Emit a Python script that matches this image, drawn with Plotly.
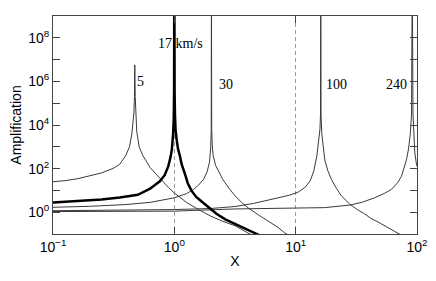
import plotly.graph_objects as go
import math

# ---- data (x = X, y = Amplification) ----
x_v5 = [0.1, 0.126, 0.158, 0.2, 0.251, 0.316, 0.355, 0.398, 0.427, 0.447, 0.457, 0.465, 0.469, 0.472,
        0.476, 0.481, 0.49, 0.513, 0.55, 0.631, 0.708, 0.794, 0.891, 1.0, 1.26, 1.585, 1.995, 2.51,
        3.16, 3.98, 5.0]
y_v5 = [25, 28, 34, 45, 63, 105, 158, 400, 1000, 4000, 12600, 4e4, 2e5, 5.7e6,
        2e5, 3.2e4, 5000, 1000, 400, 112, 56, 25, 14, 7.6, 2.8, 1.32, 0.66, 0.38,
        0.24, 0.117, 0.06]

x_v17 = [0.1, 0.158, 0.251, 0.355, 0.501, 0.631, 0.759, 0.832, 0.891, 0.933, 0.955, 0.977, 0.989,
         0.995, 1.0, 1.005, 1.012, 1.023, 1.047, 1.072, 1.109, 1.148, 1.216, 1.288, 1.38, 1.514,
         1.738, 1.995, 2.239, 2.63, 3.09, 3.715, 4.467, 5.01]
y_v17 = [2.82, 3.16, 3.8, 4.68, 6.31, 12.0, 26.3, 50, 126, 355, 794, 4000, 2e4,
         3.2e5, 1e11, 3.2e5, 3.2e4, 6300, 2000, 800, 400, 160, 63, 22, 10, 5.0,
         2.63, 1.41, 0.83, 0.47, 0.30, 0.19, 0.12, 0.089]

x_v30 = [0.1, 0.2, 0.398, 0.631, 1.0, 1.259, 1.445, 1.585, 1.738, 1.862, 1.95, 1.995, 2.014, 2.023,
         2.032, 2.051, 2.089, 2.188, 2.344, 2.512, 2.818, 3.162, 3.631, 4.169, 5.012, 6.026, 7.079,
         8.128, 9.12]
y_v30 = [1.68, 1.86, 2.24, 2.82, 4.57, 7.08, 11.2, 17.8, 31.6, 70.8, 200, 1000, 6300, 1e11,
         6300, 1260, 400, 141, 63, 31.6, 12.6, 5.62, 2.63, 1.41, 0.71, 0.38, 0.21,
         0.112, 0.079]

x_v100 = [0.1, 0.316, 1.0, 2.0, 3.16, 4.47, 5.89, 7.41, 8.91, 10.47, 12.02, 13.18, 14.13, 14.96,
          15.49, 15.85, 16.03, 16.11, 16.18, 16.41, 16.79, 17.38, 18.41, 19.72, 21.63, 23.82, 27.93,
          31.62, 37.07, 41.69, 47.75, 56.23, 65.61, 74.13]
y_v100 = [1.17, 1.23, 1.32, 1.48, 1.82, 2.51, 3.47, 4.57, 6.03, 8.3, 14.1, 28.2, 79.4, 398,
          1585, 6300, 3.2e4, 1e11, 3.2e4, 4000, 1000, 251, 79.4, 31.6, 12.6, 5.62, 2.34,
          1.41, 0.83, 0.52, 0.355, 0.219, 0.135, 0.089]

x_v240 = [0.1, 1.0, 3.16, 7.41, 10, 17.38, 28.18, 35.48, 44.67, 53.7, 61.66, 69.18, 74.47, 79.43,
          81.85, 85.11, 88.1, 90.16, 91.41, 92.68, 94.41, 95.94, 98.63, 100]
y_v240 = [1.07, 1.12, 1.41, 1.48, 1.51, 1.62, 2.14, 2.88, 4.57, 7.24, 11.2, 22.4, 44.7, 126,
          251, 794, 4000, 3.2e4, 1e11, 3.2e4, 2000, 525, 182, 126]

curve_labels = ["5", "17 km/s", "30", "100", "240"]

y_tickvals = [1e-1, 1, 1e1, 1e2, 1e3, 1e4, 1e5, 1e6, 1e7, 1e8, 1e9]
y_ticktext = ["", "10<sup>0</sup>", "", "10<sup>2</sup>", "", "10<sup>4</sup>", "",
              "10<sup>6</sup>", "", "10<sup>8</sup>", ""]
x_tickvals = [0.1, 1, 10, 100]
x_ticktext = ["10<sup>\u22121</sup>", "10<sup>0</sup>", "10<sup>1</sup>", "10<sup>2</sup>"]

fig = go.Figure()
thin = dict(color="#3a3a3a", width=1)
for xs, ys, ln in [(x_v5, y_v5, thin), (x_v30, y_v30, thin), (x_v100, y_v100, thin),
                   (x_v240, y_v240, thin), (x_v17, y_v17, dict(color="black", width=2.5))]:
    fig.add_trace(go.Scatter(x=xs, y=ys, mode="lines", line=ln, showlegend=False,
                             hoverinfo="skip"))

label_pos = [(0.524, 9.5e5), (1.13, 5.2e7), (2.66, 7e5), (21.8, 7e5), (67.5, 7e5)]
for (lx, ly), txt in zip(label_pos, curve_labels):
    fig.add_annotation(x=math.log10(lx), y=math.log10(ly), text=txt, showarrow=False,
                       font=dict(family="Liberation Serif", size=14, color="black"))

axis_common = dict(showline=True, linecolor="#444", linewidth=1, mirror="ticks",
                   ticks="inside", ticklen=7, tickcolor="#444", zeroline=False,
                   automargin=False,
                   tickfont=dict(family="Liberation Sans", size=14, color="black"))

fig.update_xaxes(type="log", range=[-1, 2], tickvals=x_tickvals, ticktext=x_ticktext,
                 showgrid=True, gridcolor="#9a9a9a", griddash="4px,3px", gridwidth=1,
                 title=dict(text="X", font=dict(family="Liberation Sans", size=14, color="black"),
                            standoff=2),
                 **axis_common)
fig.update_yaxes(type="log", range=[-1, 9], tickvals=y_tickvals, ticktext=y_ticktext,
                 showgrid=False,
                 title=dict(text="Amplification", font=dict(family="Liberation Sans", size=14, color="black"),
                            standoff=4),
                 **axis_common)

# the page body adds an 8 px offset, so the figure is sized to fit inside it
fig.update_layout(width=428, height=273, margin=dict(l=45, r=19, t=8, b=47),
                  paper_bgcolor="white", plot_bgcolor="white")

fig.write_html("out.html")
